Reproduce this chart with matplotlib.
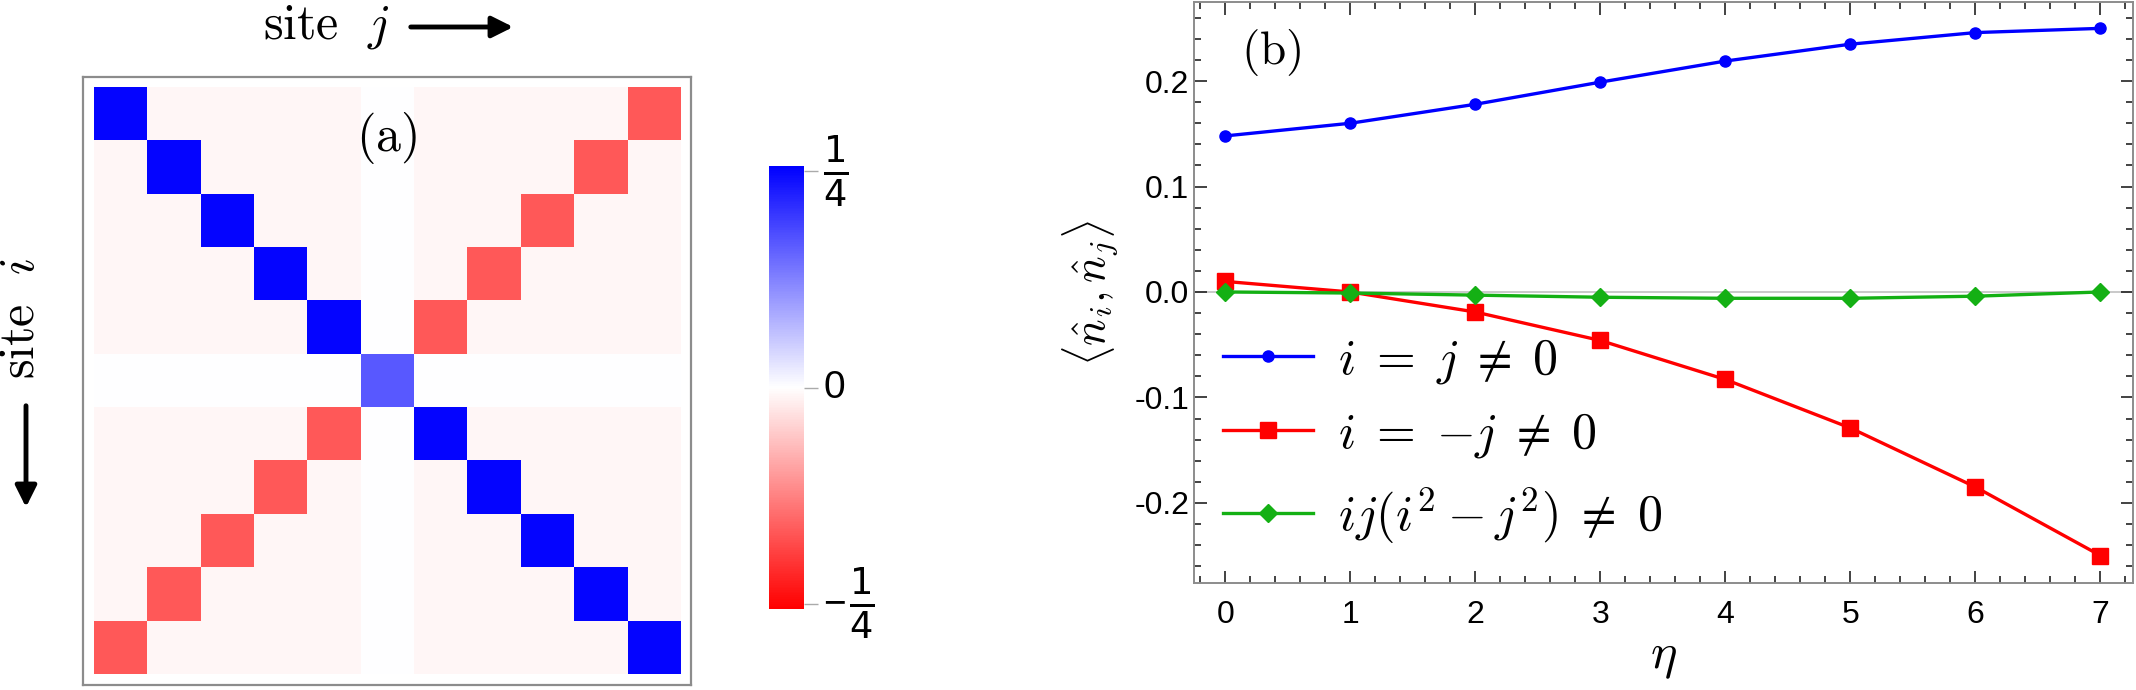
import numpy as np
import matplotlib
matplotlib.use('Agg')
import matplotlib.pyplot as plt
from matplotlib.colors import LinearSegmentedColormap, Normalize
from matplotlib.patches import FancyArrowPatch
from matplotlib.transforms import blended_transform_factory
from matplotlib.ticker import MultipleLocator, FormatStrFormatter

plt.rcParams['font.family'] = ['Liberation Sans', 'DejaVu Sans']
plt.rcParams['mathtext.fontset'] = 'cm'

# ---- panel (a): density-density correlation on an 11x11 lattice ----
B = 0.25      # i = j != 0
C = 0.167     # i = j = 0
R = -0.167    # i = -j != 0
P = -0.010    # other i, j != 0
Z = 0.0       # row / column of site 0
corr = [
    [B, P, P, P, P, Z, P, P, P, P, R],
    [P, B, P, P, P, Z, P, P, P, R, P],
    [P, P, B, P, P, Z, P, P, R, P, P],
    [P, P, P, B, P, Z, P, R, P, P, P],
    [P, P, P, P, B, Z, R, P, P, P, P],
    [Z, Z, Z, Z, Z, C, Z, Z, Z, Z, Z],
    [P, P, P, P, R, Z, B, P, P, P, P],
    [P, P, P, R, P, Z, P, B, P, P, P],
    [P, P, R, P, P, Z, P, P, B, P, P],
    [P, R, P, P, P, Z, P, P, P, B, P],
    [R, P, P, P, P, Z, P, P, P, P, B],
]
cbar_ticks = [-0.25, 0, 0.25]
cbar_signs = ['\u2212', '', '']
cbar_labels = [r'$\frac{1}{4}$', '0', r'$\frac{1}{4}$']

# ---- panel (b): correlations vs eta ----
eta = [0, 1, 2, 3, 4, 5, 6, 7]
same_site = [0.148, 0.160, 0.178, 0.199, 0.219, 0.235, 0.246, 0.250]
mirror_site = [0.010, 0.000, -0.019, -0.046, -0.083, -0.129, -0.185, -0.250]
other_site = [0.000, -0.001, -0.003, -0.005, -0.006, -0.006, -0.004, 0.000]
series_labels = [r'$i\;=\;j\;\neq\;0$', r'$i\;=\;{-}j\;\neq\;0$',
                 r'$ij(i^2-j^2)\;\neq\;0$']

W, H = 2136, 690
fig = plt.figure(figsize=(W / 100, H / 100), dpi=100)

def box(x0, y0, x1, y1):
    # pixel box (top-left origin) -> figure fraction rect
    return [x0 / W, 1 - y1 / H, (x1 - x0) / W, (y1 - y0) / H]

cmap = LinearSegmentedColormap.from_list('rwb', ['#ff0000', '#ffffff', '#0000ff'])
norm = Normalize(vmin=-0.256, vmax=0.256)

ax1 = fig.add_axes(box(82, 77, 692, 685))
im = ax1.imshow(np.array(corr), cmap=cmap, norm=norm, interpolation='nearest')
ax1.set_xlim(-0.7, 10.7)
ax1.set_ylim(10.7, -0.7)
ax1.set_xticks([])
ax1.set_yticks([])
for s in ax1.spines.values():
    s.set_color('#8c8c8c')
    s.set_linewidth(1.6)
ax1.text(5, 0.45, r'$\mathrm{(a)}$', fontsize=36, ha='center', va='center')

# colorbar, labels drawn by hand so the fractions stay large
cax = fig.add_axes(box(769, 166, 804, 609))
cb = fig.colorbar(im, cax=cax)
cb.set_ticks(cbar_ticks)
cb.set_ticklabels(['', '', ''])
cb.outline.set_visible(False)
cax.tick_params(length=10, width=1, color='#aaaaaa')
tr = blended_transform_factory(cax.transAxes, cax.transData)
for v, sg, lab in zip(cbar_ticks, cbar_signs, cbar_labels):
    if lab == '0':
        cax.text(1.55, v, lab, transform=tr, fontsize=28, ha='left', va='center')
    elif sg:
        cax.text(1.86, v, sg, transform=tr, fontsize=28, ha='center', va='center')
        cax.text(2.66, v, lab, transform=tr, fontsize=38, ha='center', va='center',
                 math_fontfamily='dejavusans')
    else:
        cax.text(1.91, v, lab, transform=tr, fontsize=38, ha='center', va='center',
                 math_fontfamily='dejavusans')

# site labels with arrows
fig.text(263 / W, 1 - 27 / H, r'$\mathrm{site}\ \ j$', fontsize=36, ha='left', va='center')
fig.add_artist(FancyArrowPatch(
    (408 / W, 1 - 27 / H), (516 / W, 1 - 27 / H), transform=fig.transFigure,
    arrowstyle='-|>', mutation_scale=32, lw=3.5, color='black'))
fig.text(21 / W, 1 - 318 / H, r'$\mathrm{site}\ \ i$', fontsize=36, rotation=90,
         ha='center', va='center')
fig.add_artist(FancyArrowPatch(
    (26 / W, 1 - 403 / H), (26 / W, 1 - 510 / H), transform=fig.transFigure,
    arrowstyle='-|>', mutation_scale=32, lw=3.5, color='black'))

# ---- panel (b) ----
ax2 = fig.add_axes(box(1194, 2, 2133, 583))
ax2.axhline(0, color='#c0c0c0', lw=1.2, zorder=0)
ax2.plot(eta, same_site, '-o', color='#0000ff', lw=2.4, ms=8, label=series_labels[0])
ax2.plot(eta, mirror_site, '-s', color='#ff0000', lw=2.4, ms=11, label=series_labels[1])
ax2.plot(eta, other_site, '-D', color='#14b014', lw=2.4, ms=9, label=series_labels[2])
ax2.set_xlim(-0.25, 7.26)
ax2.set_ylim(-0.276, 0.275)
ax2.xaxis.set_major_locator(MultipleLocator(1))
ax2.xaxis.set_minor_locator(MultipleLocator(0.2))
ax2.yaxis.set_major_locator(MultipleLocator(0.1))
ax2.yaxis.set_minor_locator(MultipleLocator(0.02))
ax2.yaxis.set_major_formatter(FormatStrFormatter('%.1f'))
ax2.tick_params(which='both', direction='in', top=True, right=True, labelsize=23,
                color='#222222', width=1.2)
ax2.tick_params(which='major', length=9)
ax2.tick_params(which='minor', length=5)
ax2.tick_params(axis='x', pad=12)
for s in ax2.spines.values():
    s.set_color('#8c8c8c')
    s.set_linewidth(1.4)
ax2.set_xlabel(r'$\eta$', fontsize=36, labelpad=4)
ax2.set_ylabel(r'$\langle \hat{n}_i,\hat{n}_j\rangle$', fontsize=32, labelpad=10)
ax2.text(0.37, 0.227, r'$\mathrm{(b)}$', fontsize=34, ha='center', va='center')
ax2.legend(loc='lower left', bbox_to_anchor=(0.01, 0.03), frameon=False, fontsize=36,
           handlelength=1.8, handletextpad=0.5, labelspacing=0.5, borderaxespad=0)

fig.savefig('out.png', dpi=100)
